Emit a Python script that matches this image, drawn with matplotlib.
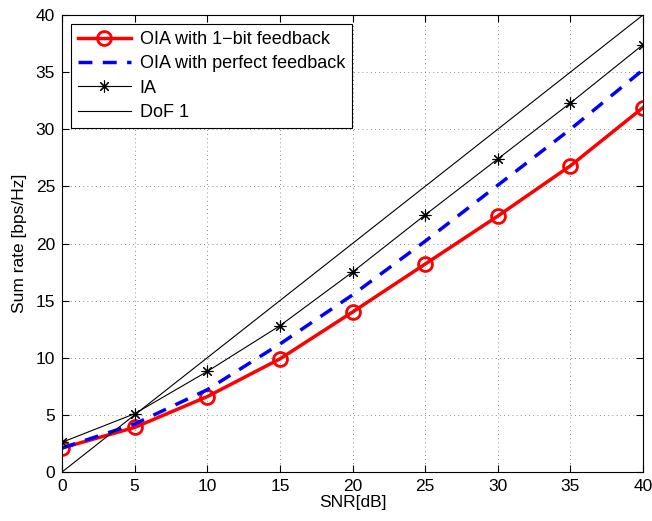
import numpy as np
import matplotlib
matplotlib.use("Agg")
import matplotlib.pyplot as plt

plt.rcParams['font.family'] = ['Liberation Sans', 'DejaVu Sans']

# ----------------------------- Data -----------------------------
snr = [0, 5, 10, 15, 20, 25, 30, 35, 40]
oia_1bit = [2.1, 3.9, 6.6, 9.9, 14.0, 18.2, 22.4, 26.8, 31.9]
oia_perfect = [2.1, 4.2, 7.2, 11.2, 15.5, 20.2, 25.1, 30.0, 35.2]
ia = [2.6, 5.1, 8.8, 12.8, 17.5, 22.5, 27.4, 32.3, 37.4]
dof_x = [0, 40]
dof_y = [0, 40]

# ----------------------------- Plot -----------------------------
fig = plt.figure(figsize=(6.52, 5.21), dpi=100)
ax = fig.add_axes([62 / 652, 1 - 472 / 521, (643 - 62) / 652, (472 - 15) / 521])

ax.plot(snr, oia_1bit, color="red", lw=2.5, marker="o", ms=10, mfc="none",
        mew=2, label="OIA with 1\u2212bit feedback")
ax.plot(snr, oia_perfect, color="blue", lw=2.5, ls=(0, (4, 3)),
        label="OIA with perfect feedback")
ax.plot(snr, ia, color="black", lw=0.8, marker=(8, 2, 0), ms=8.5, mew=0.8,
        label="IA")
ax.plot(dof_x, dof_y, color="black", lw=0.8, label="DoF 1")

ax.set_xlim(0, 40)
ax.set_ylim(0, 40)
ax.set_xticks(np.arange(0, 41, 5))
ax.set_yticks(np.arange(0, 41, 5))
ax.grid(True, ls=(0, (1, 4)), color="black", lw=0.6, alpha=0.6)
ax.tick_params(direction="in", labelsize=12.5, top=True, right=True, length=5, pad=5)
for s in ax.spines.values():
    s.set_linewidth(0.8)

ax.set_xlabel("SNR[dB]", fontsize=12.5, labelpad=1)
ax.set_ylabel("Sum rate [bps/Hz]", fontsize=12.5, labelpad=6)

leg = ax.legend(loc="upper left", fontsize=13, fancybox=False, framealpha=1,
                edgecolor="black", handlelength=2.9, borderaxespad=0.5,
                labelspacing=0.4, handletextpad=0.5, borderpad=0.4)
leg.get_frame().set_linewidth(0.8)

fig.savefig("out.png", dpi=100)
